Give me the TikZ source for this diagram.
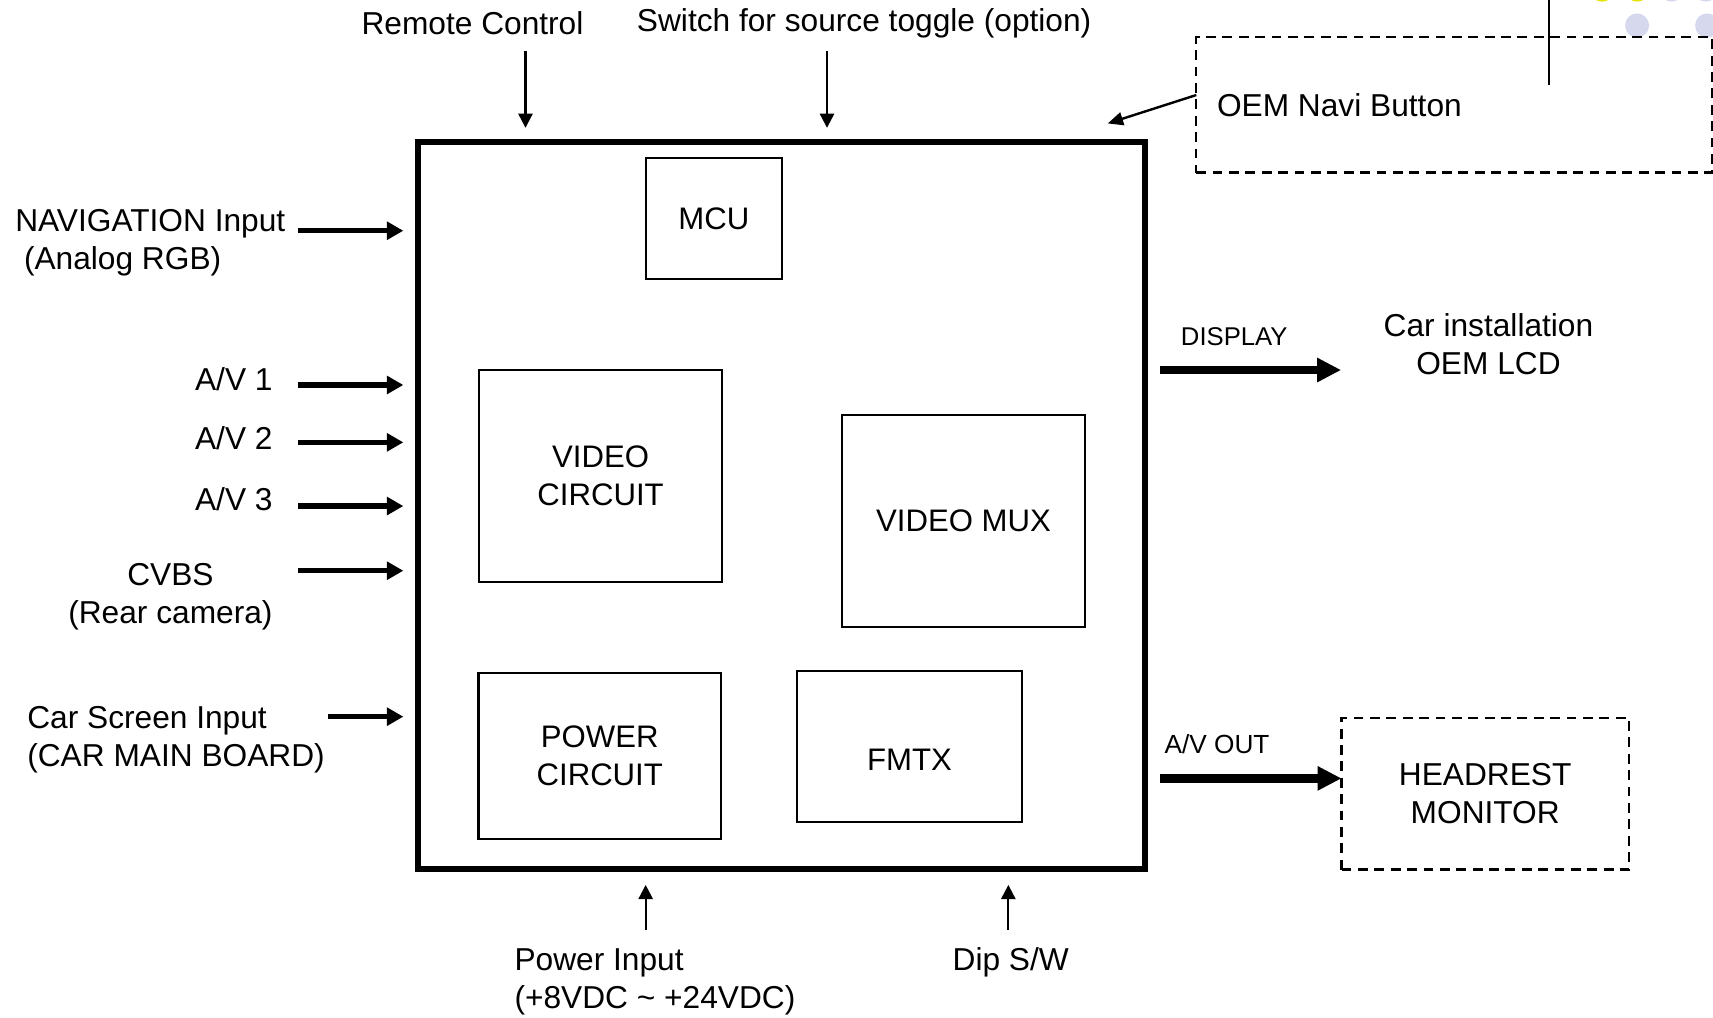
\documentclass[tikz,border=0pt]{standalone}
\usepackage{fontspec}
\setmainfont{Liberation Sans}
\usetikzlibrary{arrows.meta}
\newcommand{\fsz}[1]{\fontsize{#1}{35}\selectfont}
\definecolor{lav}{RGB}{214,216,238}
\definecolor{ylw}{RGB}{228,228,0}
\begin{document}
\begin{tikzpicture}[x=1pt,y=-1pt,
  lbl/.style={font=\fsz{29}, inner sep=0pt, outer sep=0pt},
  blk/.style={draw, line width=1.9pt, inner sep=0pt, outer sep=0pt, align=center, font=\fsz{28.5}, anchor=north west},
  dbox/.style={draw, line width=2.2pt, dash pattern=on 9pt off 6pt, inner sep=0pt, outer sep=0pt, anchor=north west},
  thinarrow/.style={line width=2pt, -{Triangle[length=13pt,width=13pt]}},
  medarrow/.style={line width=5pt, -{Triangle[length=15pt,width=16pt]}},
  fatarrow/.style={line width=8pt, -{Triangle[length=22pt,width=21pt]}},
]
\useasboundingbox (0,0) rectangle (1568,931);
\clip (0,0) rectangle (1568,931);
\fill[white] (0,0) rectangle (1568,931);

% decorative circles (top right)
\fill[ylw] (1466.5,-9.5) circle (11);
\fill[ylw] (1498.5,-9.5) circle (11);
\fill[lav] (1530,-9.5) circle (11);
\fill[lav] (1561.5,-9.5) circle (11);
\fill[lav] (1498.5,23.3) circle (11);
\fill[lav] (1562.6,23.3) circle (11);

% main box and blocks
\node[draw, line width=5.5pt, inner sep=0pt, outer sep=0pt, anchor=north west,
      minimum width=665pt, minimum height=665pt] (main) at (383,130) {};
\node[blk, minimum width=125pt, minimum height=110pt] (mcu) at (591,145) {MCU};
\node[blk, minimum width=222.5pt, minimum height=193.8pt] (vc) at (438.5,338.7) {VIDEO\\CIRCUIT};
\node[blk, minimum width=222pt, minimum height=194pt] (vmux) at (771,380) {VIDEO MUX};
\node[blk, minimum width=222pt, minimum height=152pt] (pc) at (438,616) {POWER\\CIRCUIT};
\node[blk, minimum width=206.5pt, minimum height=138pt] (fmtx) at (729.3,614.2) {};
\node[lbl, font=\fsz{28.5}, anchor=base] (fmtxt) at (832.5,705) {FMTX};

% OEM navi button box
\node[dbox, minimum width=472pt, minimum height=124pt] (oem) at (1095,34) {};
\node[lbl, anchor=base west] (oemt) at (1114,106.5) {OEM Navi Button};
\draw[line width=2.4pt] (1418,-2) -- (1418,78);
\coordinate (oa) at (1095,87);
\coordinate (ob) at (1014,113);
\draw[line width=2.2pt, -{Triangle[length=14pt,width=12pt]}] (oa) -- (ob);

% headrest monitor
\node[dbox, minimum width=263pt, minimum height=139pt, align=center, font=\fsz{29}] (head) at (1228,657) {HEADREST\\MONITOR};

% top labels and arrows
\node[lbl, anchor=base] (rc) at (432.5,32) {Remote Control};
\node[lbl, anchor=base] (sw) at (791,29) {Switch for source toggle (option)};
\coordinate (rca) at (481,47); \coordinate (rcb) at (481,117);
\coordinate (swa) at (757,47); \coordinate (swb) at (757,117);
\draw[thinarrow] (rca) -- (rcb);
\draw[thinarrow] (swa) -- (swb);

% left labels and arrows
\node[lbl, anchor=base west, align=left] (nav) at (14,247) {NAVIGATION Input\\\hspace*{8pt}(Analog RGB)};
\node[lbl, anchor=base east] (av1) at (249.5,357) {A/V 1};
\node[lbl, anchor=base east] (av2) at (249.5,411.5) {A/V 2};
\node[lbl, anchor=base east] (av3) at (249.5,467) {A/V 3};
\node[lbl, anchor=base, align=center] (cvbs) at (156,571) {CVBS\\(Rear camera)};
\node[lbl, anchor=base west, align=left] (csi) at (25,702) {Car Screen Input\\(CAR MAIN BOARD)};

\coordinate (l1a) at (273,211.2); \coordinate (l1b) at (369.2,211.2);
\coordinate (l2a) at (273,352.4); \coordinate (l2b) at (369.2,352.4);
\coordinate (l3a) at (273,404.9); \coordinate (l3b) at (369.2,404.9);
\coordinate (l4a) at (273,463.2); \coordinate (l4b) at (369.2,463.2);
\coordinate (l5a) at (273,522.4); \coordinate (l5b) at (369.2,522.4);
\coordinate (l6a) at (300.6,656); \coordinate (l6b) at (369.2,656);
\foreach \i in {1,...,6} { \draw[medarrow] (l\i a) -- (l\i b); }

% right side
\node[lbl, font=\fsz{23.5}, anchor=base west] (disp) at (1081,316) {DISPLAY};
\node[lbl, anchor=base, align=center] (lcd) at (1362.5,343) {Car installation\\OEM LCD};
\coordinate (da) at (1062,338.7); \coordinate (db) at (1227.6,338.7);
\draw[fatarrow] (da) -- (db);
\node[lbl, font=\fsz{24}, anchor=base west] (avout) at (1066,690) {A/V OUT};
\coordinate (aa) at (1062,712.5);
\draw[fatarrow] (aa) -- (aa -| head.west);

% bottom
\node[lbl, anchor=base west, align=left] (pin) at (471,923) {Power Input\\(+8VDC \textasciitilde{} +24VDC)};
\node[lbl, anchor=base west] (dip) at (872,888) {Dip S/W};
\coordinate (pa) at (591,851); \coordinate (pb) at (591,810);
\coordinate (qa) at (923,851); \coordinate (qb) at (923,810);
\draw[thinarrow] (pa) -- (pb);
\draw[thinarrow] (qa) -- (qb);
\end{tikzpicture}
\end{document}
